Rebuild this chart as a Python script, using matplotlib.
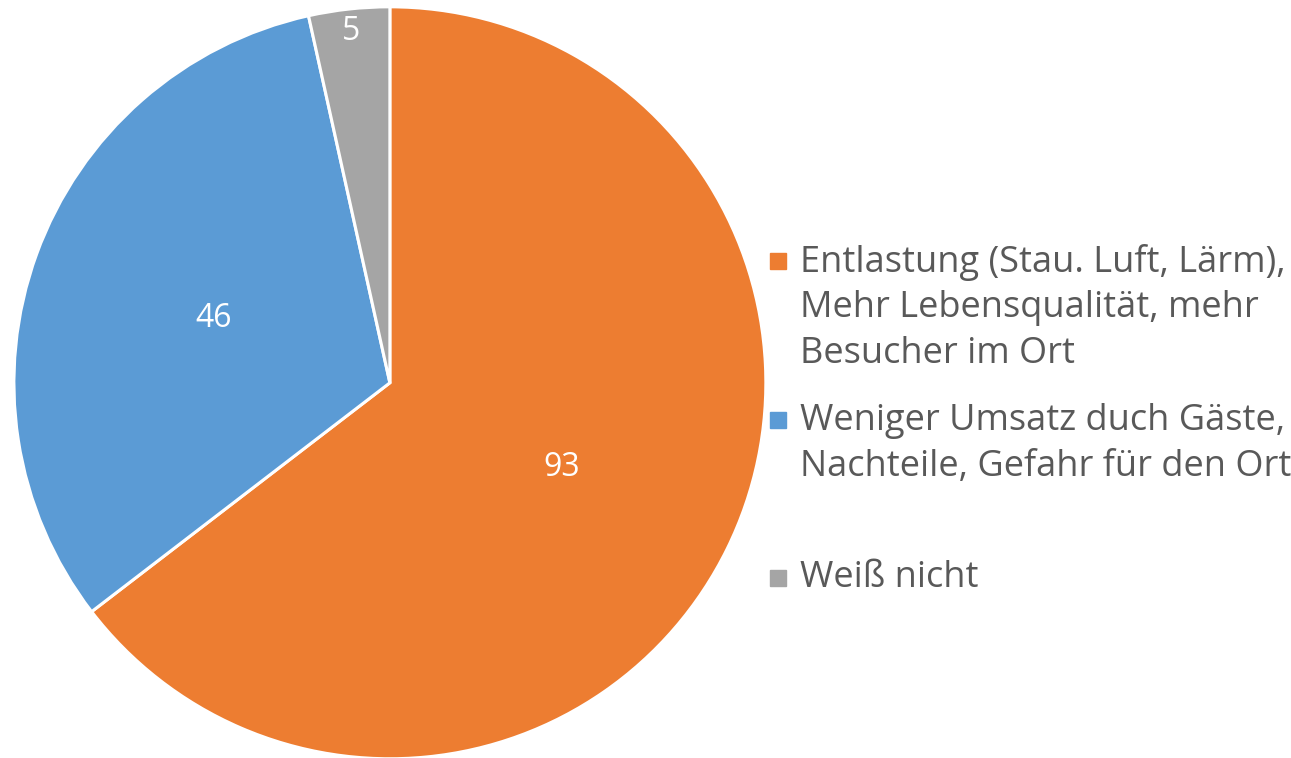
import numpy as np
import matplotlib
matplotlib.use('Agg')
import matplotlib.pyplot as plt
from matplotlib.patches import Rectangle

plt.rcParams['font.family'] = ['Open Sans', 'DejaVu Sans']

# data
labels = ['Entlastung (Stau. Luft, Lärm),\nMehr Lebensqualität, mehr\nBesucher im Ort',
          'Weniger Umsatz duch Gäste,\nNachteile, Gefahr für den Ort',
          'Weiß nicht']
values = [93, 46, 5]
colors = ['#ED7D31', '#5B9BD5', '#A5A5A5']
label_r = [0.51, 0.5, 0.94]

fig = plt.figure(figsize=(12.91, 7.58), dpi=100)
ax = fig.add_axes([0.302 - 0.2913, 0.495 - 0.496, 0.5826, 0.992])

wedges, _ = ax.pie(values, colors=colors, startangle=90, counterclock=False,
                   wedgeprops=dict(edgecolor='white', linewidth=2.2))
ax.set_xlim(-1, 1)
ax.set_ylim(-1, 1)
ax.set_aspect('equal')

# data labels inside the slices
total = float(sum(values))
start = 90.0
for v, r in zip(values, label_r):
    mid = np.deg2rad(start - v / total * 360 / 2)
    ax.text(r * np.cos(mid), r * np.sin(mid), str(v), color='white',
            fontsize=23, ha='center', va='center')
    start -= v / total * 360

# legend, entries evenly spaced by their centres
txt_color = '#595959'
centres = [308, 444, 578]
line_h = 47
for lab, c, yc in zip(labels, colors, centres):
    n = lab.count('\n') + 1
    y_first = yc - (n - 1) * line_h / 2
    fig.text(800 / 1291, 1 - yc / 758, lab, color=txt_color, fontsize=26,
             ha='left', va='center', linespacing=1.36)
    fig.patches.append(Rectangle((770 / 1291, 1 - (y_first + 8) / 758), 16 / 1291, 16 / 758,
                                 transform=fig.transFigure, color=c, figure=fig))

fig.savefig('out.png', dpi=100)
